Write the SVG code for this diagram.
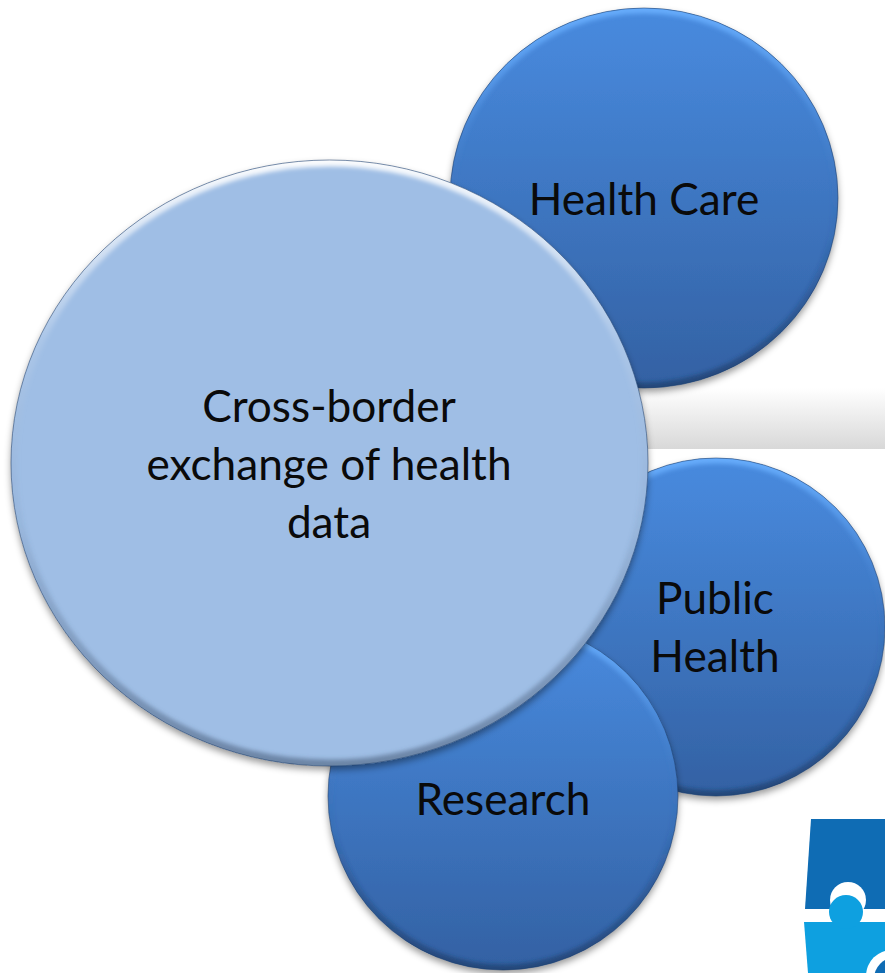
<svg xmlns="http://www.w3.org/2000/svg" width="885" height="973" viewBox="0 0 885 973">
<style>
text{font-family:Lato,"Open Sans","Liberation Sans",sans-serif;font-size:44.200px;fill:#0a0a0a;text-anchor:middle}
.b{fill:url(#blue);filter:url(#sh)}
.m{fill:#9fbee5;filter:url(#sh)}
.rb{fill:none;stroke:url(#rimb);stroke-width:11;filter:url(#bl)}
.rm{fill:none;stroke:url(#rimm);stroke-width:13;filter:url(#bl)}
.e{fill:none;stroke:#1d3c68;stroke-opacity:.55;stroke-width:1}
</style>
<defs>
<linearGradient id="blue" x1="0" y1="0" x2="0" y2="1"><stop offset="0" stop-color="#468ade"/><stop offset=".12" stop-color="#4686d8"/><stop offset="1" stop-color="#3361a3"/></linearGradient>
<linearGradient id="rimb" x1="0" y1="0" x2="0" y2="1"><stop offset="0" stop-color="#6ab0ff" stop-opacity=".9"/><stop offset=".3" stop-color="#6ab0ff" stop-opacity=".15"/><stop offset=".6" stop-color="#1d3c68" stop-opacity=".05"/><stop offset="1" stop-color="#1d3c68" stop-opacity=".7"/></linearGradient>
<linearGradient id="rimm" x1="0" y1="0" x2="0" y2="1"><stop offset="0" stop-color="#fff" stop-opacity=".95"/><stop offset=".3" stop-color="#fff" stop-opacity=".12"/><stop offset=".6" stop-color="#4a5f7c" stop-opacity=".08"/><stop offset="1" stop-color="#4a5f7c" stop-opacity=".6"/></linearGradient>
<linearGradient id="band" x1="0" y1="0" x2="0" y2="1"><stop offset="0" stop-color="#ffffff"/><stop offset="1" stop-color="#d8d8d8"/></linearGradient>
<filter id="sh" x="-10%" y="-10%" width="120%" height="120%"><feDropShadow dx="0" dy="4" stdDeviation="3.5" flood-color="#000" flood-opacity=".4"/></filter>
<filter id="bl" x="-5%" y="-5%" width="110%" height="110%"><feGaussianBlur stdDeviation="2"/></filter>
<clipPath id="c1"><ellipse cx="644" cy="198" rx="194" ry="190"/></clipPath>
<clipPath id="c2"><ellipse cx="716" cy="627" rx="169" ry="169"/></clipPath>
<clipPath id="c3"><ellipse cx="503" cy="796" rx="175" ry="174"/></clipPath>
<clipPath id="c4"><ellipse cx="329.500" cy="463" rx="318.500" ry="303"/></clipPath>
</defs>
<rect width="885" height="973" fill="#fff"/>
<rect x="620" y="388" width="265" height="61" fill="url(#band)"/>
<g id="logo">
<path d="M811 819H885V909H805Z" fill="#0f6cb4"/>
<circle cx="848" cy="900" r="18" fill="#fff"/>
<path d="M804 922H885V973H808Z" fill="#0ea0e0"/>
<circle cx="846" cy="912" r="17" fill="#0ea0e0"/>
<circle cx="892" cy="976" r="26" fill="#fff"/>
<circle cx="896" cy="979" r="22" fill="#0f6cb4"/>
</g>
<g id="connectors"/>
<g id="health-care"><ellipse class="b" cx="644" cy="198" rx="194" ry="190"/><g clip-path="url(#c1)"><ellipse class="rb" cx="644" cy="198" rx="194" ry="190"/></g><ellipse class="e" cx="644" cy="198" rx="194" ry="190"/><text x="644" y="215">Health Care</text></g>
<g id="public-health"><ellipse class="b" cx="716" cy="627" rx="169" ry="169"/><g clip-path="url(#c2)"><ellipse class="rb" cx="716" cy="627" rx="169" ry="169"/></g><ellipse class="e" cx="716" cy="627" rx="169" ry="169"/><text x="715" y="614">Public</text><text x="715" y="672">Health</text></g>
<g id="research"><ellipse class="b" cx="503" cy="796" rx="175" ry="174"/><g clip-path="url(#c3)"><ellipse class="rb" cx="503" cy="796" rx="175" ry="174"/></g><ellipse class="e" cx="503" cy="796" rx="175" ry="174"/><text x="503" y="815">Research</text></g>
<g id="cross-border"><ellipse class="m" cx="329.500" cy="463" rx="318.500" ry="303"/><g clip-path="url(#c4)"><ellipse class="rm" cx="329.500" cy="463" rx="318.500" ry="303"/></g><ellipse class="e" cx="329.500" cy="463" rx="318.500" ry="303"/><text x="329" y="422">Cross-border</text><text x="329" y="480">exchange of health</text><text x="329" y="538">data</text></g>
</svg>
